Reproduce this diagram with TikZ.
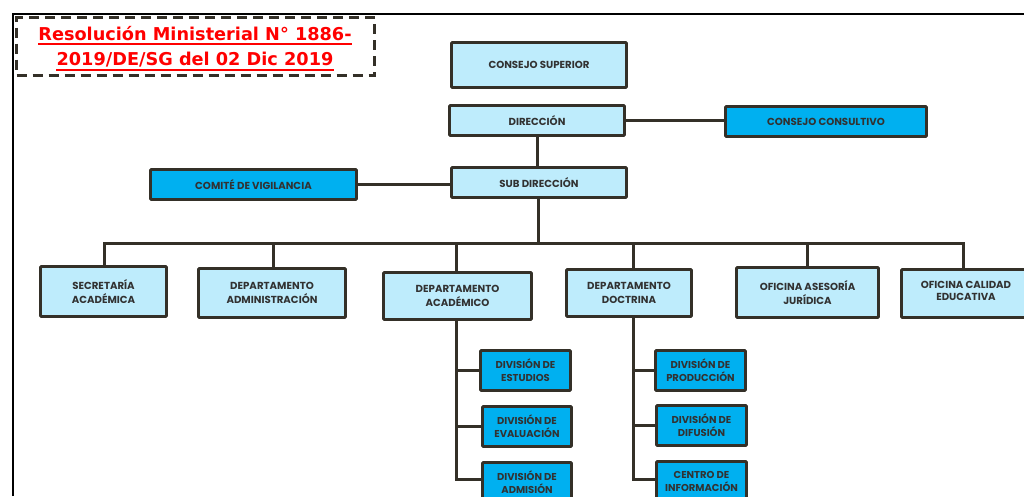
\documentclass[tikz,border=0pt]{standalone}
\usepackage{fontspec}
\setmainfont{Poppins}
\newfontfamily\titlefont{DejaVu Sans}
\definecolor{lightc}{RGB}{190,236,252}
\definecolor{brightc}{RGB}{0,176,240}
\definecolor{bordc}{RGB}{52,48,40}
\definecolor{txtc}{RGB}{50,50,50}
\definecolor{titlec}{RGB}{255,0,0}
\begin{document}
\begin{tikzpicture}[x=1pt,y=-1pt,
  box/.style={draw=bordc, line width=2.9pt, rounded corners=1pt, inner sep=1pt, align=center, text=txtc,
    font=\fontsize{10.2}{14.5}\selectfont\bfseries},
  lbox/.style={box, fill=lightc},
  cbox/.style={box, fill=brightc},
  dbox/.style={box, fill=brightc, font=\fontsize{10}{13}\selectfont\bfseries},
  conn/.style={draw=bordc, line width=3pt},
  titletext/.style={font=\titlefont\fontsize{17.7}{22}\selectfont\bfseries, text=titlec, anchor=base, inner sep=0pt},
  uline/.style={draw=titlec, line width=2pt},
]
\fill[white] (0,0) rectangle (1024,496);
\useasboundingbox (0,0) rectangle (1024,496);

% frame
\draw[black, line width=2pt] (13,496) -- (13,14) -- (1024,14);

% title
\node[draw=bordc, line width=3pt, dash pattern=on 10pt off 6pt, minimum width=358pt, minimum height=58pt, inner sep=0pt] (tb) at (195.5,46.5) {};
\node[titletext] (t1) at (195,40.5) {Resolución Ministerial N° 1886-};
\node[titletext] (t2) at (195,65.5) {2019/DE/SG del 02 Dic 2019};
\draw[uline] ([yshift=-3.8pt]t1.base west) -- ([yshift=-3.8pt]t1.base east);
\draw[uline] ([yshift=-4.5pt]t2.base west) -- ([yshift=-4.5pt]t2.base east);

% top
\node[lbox, minimum width=175pt, minimum height=45pt] (cs) at (539,65) {CONSEJO SUPERIOR};
\node[lbox, minimum width=175pt, minimum height=30pt] (dir) at (537,120.5) {DIRECCIÓN};
\node[cbox, minimum width=201pt, minimum height=30pt] (cc) at (826,121.5) {CONSEJO CONSULTIVO};
\node[lbox, minimum width=175pt, minimum height=30pt] (sub) at (539,182.5) {SUB DIRECCIÓN};
\node[cbox, minimum width=206pt, minimum height=30pt] (com) at (253.5,184.5) {COMITÉ DE VIGILANCIA};

% row
\node[lbox, minimum width=126pt, minimum height=50pt] (sec) at (103.5,291.5) {SECRETARÍA\\ACADÉMICA};
\node[lbox, minimum width=147pt, minimum height=49pt] (adm) at (272,293) {DEPARTAMENTO\\ADMINISTRACIÓN};
\node[lbox, minimum width=148pt, minimum height=47pt] (aca) at (457.5,296) {DEPARTAMENTO\\ACADÉMICO};
\node[lbox, minimum width=125pt, minimum height=47pt] (doc) at (629,293) {DEPARTAMENTO\\DOCTRINA};
\node[lbox, minimum width=142pt, minimum height=50pt] (ase) at (807.5,292.5) {OFICINA ASESORÍA\\JURÍDICA};
\node[lbox, minimum width=129pt, minimum height=48pt] (cal) at (966,293.5) {\raisebox{5pt}{\shortstack{OFICINA CALIDAD\\[1pt]EDUCATIVA}}};

% divisions
\node[dbox, minimum width=90pt, minimum height=40pt] (est) at (525.5,370.5) {DIVISIÓN DE\\ESTUDIOS};
\node[dbox, minimum width=89pt, minimum height=40pt] (eva) at (527,426.5) {DIVISIÓN DE\\EVALUACIÓN};
\node[dbox, minimum width=89pt, minimum height=40pt] (adn) at (527,482.5) {DIVISIÓN DE\\ADMISIÓN};
\node[dbox, minimum width=90pt, minimum height=40pt] (pro) at (700.5,370.5) {DIVISIÓN DE\\PRODUCCIÓN};
\node[dbox, minimum width=90pt, minimum height=40pt] (dif) at (701.5,425.5) {DIVISIÓN DE\\DIFUSIÓN};
\node[dbox, minimum width=90pt, minimum height=40pt] (cen) at (701.5,481.5) {CENTRO DE\\INFORMACIÓN};

% connectors
\draw[conn] (dir.east) -- (cc.west |- dir.east);
\draw[conn] (dir.south) -- (dir.south |- sub.north);
\draw[conn] (com.east) -- (sub.west |- com.east);

\coordinate (bm) at (538,243);
\coordinate (b1) at (104,243);
\coordinate (b2) at (273,243);
\coordinate (b3) at (456,243);
\coordinate (b4) at (633,243);
\coordinate (b5) at (807,243);
\coordinate (b6) at (963,243);
\draw[conn] (bm |- sub.south) -- (bm);
\draw[conn, line cap=rect] (b1) -- (b6);
\draw[conn] (b1) -- (b1 |- sec.north);
\draw[conn] (b2) -- (b2 |- adm.north);
\draw[conn] (b3) -- (b3 |- aca.north);
\draw[conn] (b4) -- (b4 |- doc.north);
\draw[conn] (b5) -- (b5 |- ase.north);
\draw[conn] (b6) -- (b6 |- cal.north);

\coordinate (ta) at (456,479);
\coordinate (td) at (633,479);
\draw[conn] (ta |- aca.south) -- (ta);
\draw[conn] (td |- doc.south) -- (td);
\draw[conn] (ta |- est.west) -- (est.west);
\draw[conn] (ta |- eva.west) -- (eva.west);
\draw[conn, line cap=rect] (ta) -- (adn.west |- ta);
\draw[conn] (td |- pro.west) -- (pro.west);
\draw[conn] (td |- dif.west) -- (dif.west);
\draw[conn, line cap=rect] (td) -- (cen.west |- td);
\end{tikzpicture}
\end{document}
